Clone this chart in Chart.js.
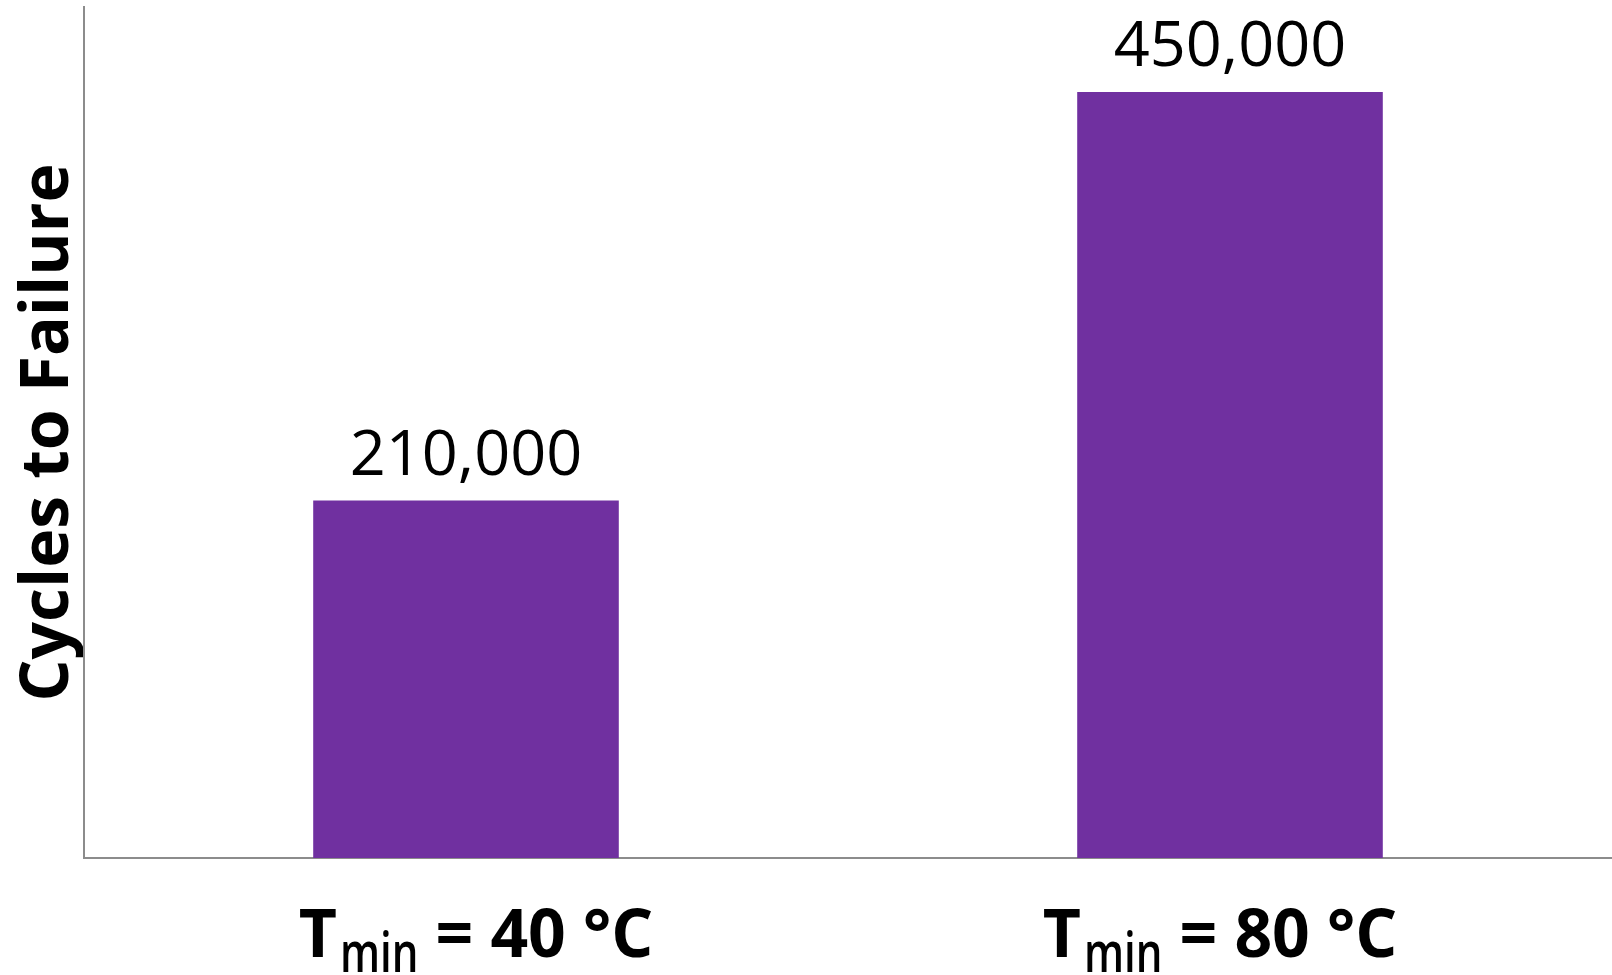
<!DOCTYPE html>
<html>
<head>
<meta charset="utf-8">
<title>Cycles to Failure</title>
<script src="https://cdn.jsdelivr.net/npm/chart.js@4/dist/chart.umd.min.js"></script>
<style>
  html, body { margin: 0; padding: 0; background: #ffffff; }
  #wrap { width: 1612px; height: 975px; position: relative; }
</style>
</head>
<body>
<div id="wrap"><canvas id="cyclesChart"></canvas></div>
<script>
// minimum temperature of each test, and cycles to failure measured
const tminValues = ["40", "80"];
const categories = ["Tmin = 40 °C", "Tmin = 80 °C"];
const cycles = [210000, 450000];

const yMax = 500000;
const barColor = "#7030a0";
const axisColor = "#8c8c8c";
const fontFamily = "'Open Sans', 'Noto Sans', sans-serif";

// number above each bar, e.g. 210,000
const valueLabels = {
  id: "valueLabels",
  afterDatasetsDraw(chart) {
    const ctx = chart.ctx;
    const meta = chart.getDatasetMeta(0);
    ctx.save();
    ctx.fillStyle = "#000000";
    ctx.font = "400 63px " + fontFamily;
    ctx.textAlign = "center";
    ctx.textBaseline = "alphabetic";
    meta.data.forEach((bar, i) => {
      const txt = cycles[i].toLocaleString("en-US");
      ctx.fillText(txt, bar.x, bar.y - 26);
    });
    ctx.restore();
  },
};

// category labels with the "min" subscript under T
const tickLabels = {
  id: "tickLabels",
  afterDraw(chart) {
    const ctx = chart.ctx;
    const xScale = chart.scales.x;
    const baseY = xScale.bottom - 18;
    const mainFont = "700 66px " + fontFamily;
    const subFont = "600 56px " + fontFamily;
    const subSqueeze = 0.75; // subscript is set narrow
    const inset = 10; // labels sit a little towards the middle
    const midX = (xScale.left + xScale.right) / 2;
    ctx.save();
    ctx.fillStyle = "#000000";
    ctx.textBaseline = "alphabetic";
    ctx.textAlign = "left";
    tminValues.forEach((t, i) => {
      const head = "T";
      const sub = "min";
      const tail = " = " + t + " °C";
      ctx.font = mainFont;
      const wHead = ctx.measureText(head).width;
      const wTail = ctx.measureText(tail).width;
      ctx.font = subFont;
      const wSub = ctx.measureText(sub).width * subSqueeze;
      const total = wHead + 3 + wSub + wTail;
      const tickX = xScale.getPixelForTick(i);
      const cx = tickX + (tickX < midX ? inset : -inset);
      let x = cx - total / 2;
      ctx.font = mainFont;
      ctx.fillText(head, x, baseY);
      x += wHead + 3;
      ctx.font = subFont;
      ctx.save();
      ctx.translate(x, baseY + 15);
      ctx.scale(subSqueeze, 1);
      ctx.fillText(sub, 0, 0);
      ctx.restore();
      x += wSub;
      ctx.font = mainFont;
      ctx.fillText(tail, x, baseY);
    });
    ctx.restore();
  },
};

const config = {
  type: "bar",
  data: {
    labels: categories,
    datasets: [
      {
        label: "Cycles to Failure",
        data: cycles,
        backgroundColor: barColor,
        borderWidth: 0,
        barPercentage: 0.4,
        categoryPercentage: 1.0,
      },
    ],
  },
  options: {
    responsive: true,
    maintainAspectRatio: false,
    animation: false,
    layout: { padding: { top: 7, right: 0, bottom: 0, left: 0 } },
    plugins: {
      legend: { display: false },
      tooltip: { enabled: false },
    },
    scales: {
      x: {
        grid: { display: false },
        border: { display: true, color: axisColor, width: 2 },
        ticks: { display: false },
        afterFit(scale) {
          scale.height = 117;
        },
      },
      y: {
        min: 0,
        max: yMax,
        grid: { display: false },
        border: { display: true, color: axisColor, width: 2 },
        ticks: { display: false },
        title: {
          display: true,
          text: "Cycles to Failure",
          color: "#000000",
          font: { family: fontFamily, size: 66, weight: "700", lineHeight: 1 },
          padding: { top: 16, bottom: 0 },
        },
        afterFit(scale) {
          scale.width = 84;
        },
      },
    },
  },
  plugins: [valueLabels, tickLabels],
};

const ctx = document.getElementById("cyclesChart");
new Chart(ctx, config);
</script>
</body>
</html>
